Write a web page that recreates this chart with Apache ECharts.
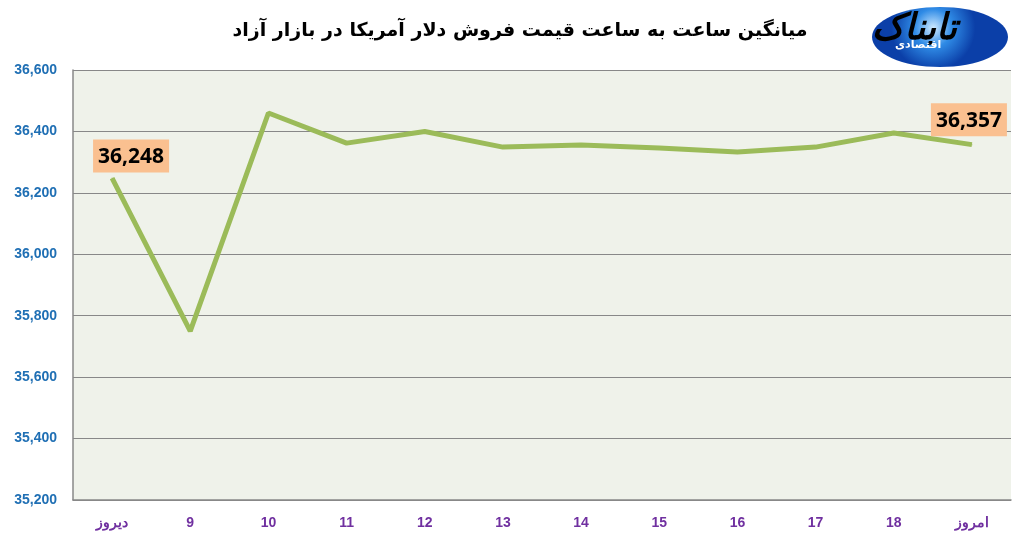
<!DOCTYPE html>
<html><head><meta charset="utf-8">
<script src="https://cdn.jsdelivr.net/npm/echarts@6/dist/echarts.min.js"></script>
<style>html,body{margin:0;padding:0;background:#fff}#c{width:1018px;height:540px}</style>
</head><body><div id="c"></div>
<script>
var categories = ['دیروز','9','10','11','12','13','14','15','16','17','18','امروز'];
var prices = [36248, 35750, 36460, 36362, 36400, 36349, 36356, 36346, 36333, 36349, 36395, 36357];
var yTicks = [35200, 35400, 35600, 35800, 36000, 36200, 36400, 36600];
var titleText = 'میانگین ساعت به ساعت قیمت فروش دلار آمریکا در بازار آزاد';

var chart = echarts.init(document.getElementById('c'));
var lastIdx = prices.length - 1;
var data = prices.map(function (v, i) {
  var d = { value: v };
  if (i === 0) {
    d.label = { show: true, offset: [19, 0] };
  } else if (i === lastIdx) {
    d.label = { show: true, offset: [-3, -3] };
  }
  return d;
});
chart.setOption({
  animation: false,
  backgroundColor: '#fff',
  title: {
    text: titleText, left: 515, top: 17, textAlign: 'center',
    textStyle: { fontFamily: 'DejaVu Sans', fontWeight: 'bold', fontSize: 19, color: '#000' }
  },
  grid: { left: 73, right: 7, top: 70, bottom: 40, show: true, backgroundColor: '#EFF2EA', borderWidth: 0 },
  xAxis: {
    type: 'category', data: categories, boundaryGap: true,
    axisLine: { lineStyle: { color: '#888', width: 1.5 } },
    axisTick: { show: false },
    axisLabel: { color: '#7030A0', fontWeight: 'bold', fontSize: 14, margin: 16, fontFamily: 'Liberation Sans Narrow, Arial' }
  },
  yAxis: {
    type: 'value', min: yTicks[0], max: yTicks[yTicks.length - 1], interval: 200,
    axisLine: { show: true, lineStyle: { color: '#888', width: 1.5 } },
    axisTick: { show: false },
    splitLine: { lineStyle: { color: '#888', width: 1.2 } },
    axisLabel: {
      color: '#1F6FB4', fontWeight: 'bold', fontSize: 14, margin: 16, fontFamily: 'Liberation Sans Narrow, Arial',
      formatter: function (v) { return v.toLocaleString('en-US'); }
    }
  },
  series: [{
    type: 'line', data: data, symbol: 'circle', symbolSize: 1, showSymbol: true,
    itemStyle: { color: '#9BBB59' },
    lineStyle: { color: '#9BBB59', width: 5 },
    label: {
      show: false, position: 'top', distance: 5,
      backgroundColor: '#FAC090', padding: [7, 5, 5, 5],
      color: '#000', fontWeight: 'bold', fontSize: 21, fontFamily: 'Open Sans, Liberation Sans',
      formatter: function (p) { return p.value.toLocaleString('en-US'); }
    }
  }],
  graphic: [
    { type: 'ellipse', shape: { cx: 940, cy: 37, rx: 68, ry: 30 },
      style: { fill: { type: 'radial', x: 0.45, y: 0.35, r: 0.7, colorStops: [{ offset: 0, color: '#CFEAFF' }, { offset: 0.45, color: '#2F8BE6' }, { offset: 1, color: '#0B3FA8' }] } } },
    { type: 'text', left: 872, top: 12, style: { text: 'تابناک', fontSize: 36, fontWeight: 'bold', fontStyle: 'italic', fill: '#000', fontFamily: 'DejaVu Sans' } },
    { type: 'text', left: 895, top: 40, style: { text: 'اقتصادی', fontSize: 11, fontWeight: 'bold', fill: '#fff', fontFamily: 'DejaVu Sans' } }
  ]
});
</script></body></html>
